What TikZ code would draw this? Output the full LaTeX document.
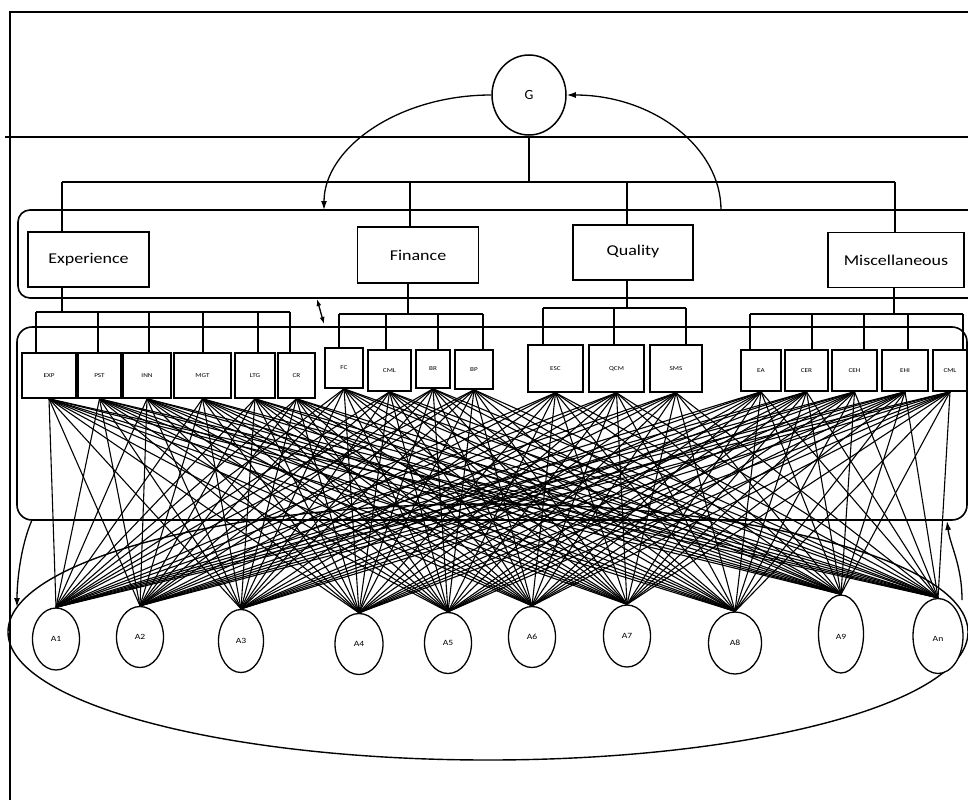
\documentclass[tikz,border=0pt]{standalone}
\usepackage{fontspec}
\usepackage{graphicx}
\setmainfont{Carlito}
\usetikzlibrary{shapes.geometric,arrows.meta}
\newcommand{\wideT}[1]{\scalebox{1.2}[1]{#1}}
\tikzset{
  frame/.style={line width=1.8pt},
  tree/.style={line width=1.3pt},
  mesh/.style={line width=1.1pt},
  group/.style={line width=1.6pt},
  topbox/.style={draw, line width=1.7pt, rectangle, inner sep=0pt, font=\fontsize{15}{18}\selectfont},
  subbox/.style={draw, line width=1.6pt, rectangle, fill=white, inner sep=0pt, font=\fontsize{6}{7}\selectfont},
  alt/.style={draw, ellipse, line width=1.3pt, inner sep=0pt, fill=white, font=\fontsize{8}{9}\selectfont},
  tip/.style={-{Latex[length=9pt,width=6pt]}},
}
\begin{document}
\begin{tikzpicture}[x=1pt,y=-1pt]
\useasboundingbox (0,0) rectangle (968,800);
\clip (0,0) rectangle (968,800);

% page frame and goal band
\draw[frame] (10,800) -- (10,12) -- (968,12);
\draw[frame] (5,137) -- (968,137);

% goal
\node[draw, ellipse, line width=1.5pt, minimum width=74pt, minimum height=80pt, inner sep=0pt,
      font=\fontsize{14}{16}\selectfont] (G) at (529,95) {G};

% criteria band and sub-criteria band
\draw[group, rounded corners=12pt] (18,210) rectangle (990,298);
\draw[group, rounded corners=15pt] (17,327) rectangle (967,520);

% criteria
\node[topbox, minimum width=121pt, minimum height=55pt] (exper) at (88.5,259.5) {\wideT{Experience}};
\node[topbox, minimum width=121pt, minimum height=56pt] (fin)   at (418,255)    {\wideT{Finance}};
\node[topbox, minimum width=120pt, minimum height=55pt] (qual)  at (633,252.5)  {\raisebox{5pt}{\wideT{Quality}}};
\node[topbox, minimum width=136pt, minimum height=55pt] (misc)  at (896,260)    {\wideT{Miscellaneous}};

% goal -> criteria tree
\coordinate (busL) at (62,182);
\coordinate (busR) at (895,182);
\draw[tree] (G.south) -- (G.south |- busL);
\draw[tree] (busL) -- (busR);
\draw[tree] (busL) -- (exper.north -| busL);
\draw[tree] (410,182) -- (fin.north -| 410,182);
\draw[tree] (627,182) -- (qual.north -| 627,182);
\draw[tree] (busR) -- (misc.north -| busR);

% feedback arcs around the goal
\coordinate (retL) at (324,210);
\coordinate (retR) at (721,210);
\draw[tree, tip] (G.west) .. controls +(-93,0) and +(0,-62) .. (retL);
\draw[tree, tip] (retR) .. controls +(0,-63) and +(86,0) .. (G.east);

% sub-criteria
\node[subbox, minimum width=54pt, minimum height=45pt] (EXP) at (49,375.5)  {\wideT{EXP}};
\node[subbox, minimum width=43pt, minimum height=45pt] (PST) at (99.5,375.5) {\wideT{PST}};
\node[subbox, minimum width=48pt, minimum height=45pt] (INN) at (147,375.5) {\wideT{INN}};
\node[subbox, minimum width=57pt, minimum height=45pt] (MGT) at (202.5,375.5) {\wideT{MGT}};
\node[subbox, minimum width=40pt, minimum height=45pt] (LTG) at (255,375.5) {\wideT{LTG}};
\node[subbox, minimum width=37pt, minimum height=45pt] (CR)  at (296.5,375.5) {\wideT{CR}};

\node[subbox, minimum width=38pt, minimum height=40pt] (FC)  at (344,368)   {\wideT{FC}};
\node[subbox, minimum width=43pt, minimum height=41pt] (CML) at (389.5,370.5) {\wideT{CML}};
\node[subbox, minimum width=34pt, minimum height=38pt] (BR)  at (433,369)   {\wideT{BR}};
\node[subbox, minimum width=38pt, minimum height=39pt] (BP)  at (474,369.5) {\wideT{BP}};

\node[subbox, minimum width=55pt, minimum height=47pt] (ESC) at (555.5,368.5) {\wideT{ESC}};
\node[subbox, minimum width=55pt, minimum height=47pt] (QCM) at (616.5,368.5) {\wideT{QCM}};
\node[subbox, minimum width=52pt, minimum height=47pt] (SMS) at (676,368.5)   {\wideT{SMS}};

\node[subbox, minimum width=40pt, minimum height=41pt] (EA)   at (761,370.5)   {\wideT{EA}};
\node[subbox, minimum width=43pt, minimum height=41pt] (CER)  at (806.5,370.5) {\wideT{CER}};
\node[subbox, minimum width=45pt, minimum height=41pt] (CEH)  at (854.5,370.5) {\wideT{CEH}};
\node[subbox, minimum width=46pt, minimum height=41pt] (EHI)  at (905,370.5)   {\wideT{EHI}};
\node[subbox, minimum width=34pt, minimum height=41pt] (CMLm) at (950,370.5)   {\wideT{CML}};

% criteria -> sub-criteria trees
\draw[tree] (exper.south) ++(-26.5,0) coordinate (eTop) -- (eTop |- 0,312);
\draw[tree] (36,312) -- (290,312);
\foreach \b/\x in {EXP/36, PST/98, INN/149, MGT/203, LTG/258, CR/290}
  \draw[tree] (\x,312) -- (\b.north -| \x,312);

\draw[tree] (fin.south -| 408,0) -- (408,314);
\draw[tree] (339,314) -- (483,314);
\foreach \b/\x in {FC/339, CML/386, BR/438, BP/483}
  \draw[tree] (\x,314) -- (\b.north -| \x,314);

\draw[tree] (qual.south -| 627,0) -- (627,308);
\draw[tree] (543,308) -- (686,308);
\foreach \b/\x in {ESC/543, QCM/614, SMS/686}
  \draw[tree] (\x,308) -- (\b.north -| \x,308);

\draw[tree] (misc.south -| 894,0) -- (894,314);
\draw[tree] (750,314) -- (963,314);
\foreach \b/\x in {EA/750, CER/812, CEH/864, EHI/908, CMLm/963}
  \draw[tree] (\x,314) -- (\b.north -| \x,314);

% link between the two bands
\draw[tree, {Latex[length=7pt,width=5pt]}-{Latex[length=7pt,width=5pt]}] (317,299) -- (324,324);

% alternatives
\draw[line width=1.4pt] (488,632) ellipse [x radius=480, y radius=128];
\node[alt, minimum width=47pt, minimum height=62pt] (A1) at (56,639)  {\wideT{A1}};
\node[alt, minimum width=47pt, minimum height=61pt] (A2) at (140,637) {\wideT{A2}};
\node[alt, minimum width=45pt, minimum height=63pt] (A3) at (241,641) {\wideT{A3}};
\node[alt, minimum width=48pt, minimum height=61pt] (A4) at (359,644) {\wideT{A4}};
\node[alt, minimum width=47pt, minimum height=61pt] (A5) at (448,643) {\wideT{A5}};
\node[alt, minimum width=47pt, minimum height=61pt] (A6) at (532,637) {\wideT{A6}};
\node[alt, minimum width=47pt, minimum height=62pt] (A7) at (627,636) {\wideT{A7}};
\node[alt, minimum width=53pt, minimum height=62pt] (A8) at (735,643) {\wideT{A8}};
\node[alt, minimum width=45pt, minimum height=78pt] (A9) at (841,634) {\raisebox{-10pt}{\wideT{A9}}};
\node[alt, minimum width=50pt, minimum height=75pt] (An) at (938,636) {\raisebox{-10pt}{\wideT{An}}};

% every sub-criterion is linked to every alternative
\foreach \s in {EXP,PST,INN,MGT,LTG,CR,FC,CML,BR,BP,ESC,QCM,SMS,EA,CER,CEH,EHI,CMLm}
  \foreach \a in {A1,A2,A3,A4,A5,A6,A7,A8,A9,An}
    \draw[mesh] (\s.south) -- (\a.north);

% feedback between the sub-criteria band and the alternatives
\coordinate (downS) at (32,520);
\coordinate (downE) at (17,607);
\coordinate (upS) at (962,600);
\coordinate (upE) at (947,521);
\draw[tree, tip] (downS) .. controls (21,545) and (17,580) .. (downE);
\draw[tree, tip] (upS) .. controls (962,565) and (950,545) .. (upE);
\end{tikzpicture}
\end{document}
